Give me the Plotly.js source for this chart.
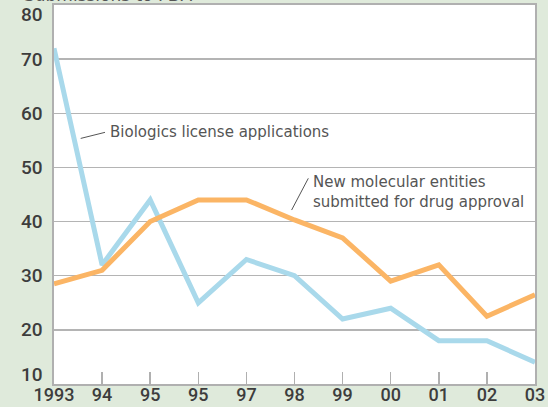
<!DOCTYPE html>
<html>
<head>
<meta charset="utf-8">
<script src="https://cdn.plot.ly/plotly-3.0.1.min.js"></script>
<style>html,body{margin:0;padding:0;background:#dfeadb;}#chart{width:548px;height:407px;}</style>
</head>
<body>
<div id="chart"></div>
<script>
const years = ["1993","94","95","95","97","98","99","00","01","02","03"];
const biologics = [72, 32, 44, 25, 33, 30, 22, 24, 18, 18, 14];
const newEntities = [28.5, 31, 40, 44, 44, 40.3, 37, 29, 32, 22.5, 26.5];
const yTicks = [10, 20, 30, 40, 50, 60, 70, 80];

const xIdx = years.map((_, i) => i);
const labelFont = {family: "Roboto, Liberation Sans, Arial, sans-serif", size: 19, color: "#3d3d3d", weight: 500};
const xLabelFont = {family: "Roboto, Liberation Sans, Arial, sans-serif", size: 18, color: "#3d3d3d", weight: 500};
const noteFont = {family: "DejaVu Sans, Open Sans, sans-serif", size: 15, color: "#555"};

const traces = [
  {x: xIdx, y: biologics, type: "scatter", mode: "lines", name: "Biologics license applications",
   line: {color: "#a9d9eb", width: 5}},
  {x: xIdx, y: newEntities, type: "scatter", mode: "lines", name: "New molecular entities submitted for drug approval",
   line: {color: "#fbb565", width: 5}}
];

const yLabelAnnotations = yTicks.map(v => ({
  text: String(v), xref: "paper", yref: "y", x: 0, y: v,
  xanchor: "right", yanchor: "middle", xshift: -9,
  yshift: v === 80 ? -9 : (v === 10 ? 10 : 0),
  showarrow: false, font: labelFont
}));

const layout = {
  width: 548, height: 407,
  margin: {l: 54, r: 13, t: 5, b: 23, pad: 0},
  paper_bgcolor: "#dfeadb",
  plot_bgcolor: "#ffffff",
  showlegend: false,
  xaxis: {
    range: [0, 10], tickvals: xIdx, ticktext: years, tickmode: "array",
    ticks: "inside", ticklen: 12, tickwidth: 1.5, tickcolor: "#b0b0b0",
    showgrid: false, zeroline: false,
    showline: true, mirror: true, linecolor: "#b0b0b0", linewidth: 2,
    tickfont: xLabelFont, ticklabelstandoff: -7
  },
  yaxis: {
    range: [10, 80], tickvals: yTicks, tickmode: "array", showticklabels: false,
    ticks: "", showgrid: true, gridcolor: "#b4b4b4", gridwidth: 1.5,
    zeroline: false, showline: true, mirror: true, linecolor: "#b0b0b0", linewidth: 2
  },
  annotations: yLabelAnnotations.concat([
    {text: "Biologics license applications", xref: "paper", yref: "paper",
     x: 0.1123, y: 0.6657, xanchor: "left", yanchor: "middle", showarrow: false, font: noteFont},
    {text: "New molecular entities<br>submitted for drug approval", xref: "paper", yref: "paper",
     x: 0.5337, y: 0.5053, xanchor: "left", yanchor: "middle", align: "left", showarrow: false, font: noteFont},
    {text: "Submissions to FDA", xref: "paper", yref: "paper",
     x: -0.066, y: 0.9935, xanchor: "left", yanchor: "bottom", showarrow: false,
     font: {family: "DejaVu Sans, sans-serif", size: 17, color: "#555"}}
  ]),
  shapes: [
    {type: "line", xref: "paper", yref: "paper", x0: 0.0555, y0: 0.648, x1: 0.106, y1: 0.664,
     line: {color: "#555", width: 1}},
    {type: "line", xref: "paper", yref: "paper", x0: 0.494, y0: 0.459, x1: 0.5287, y1: 0.5427,
     line: {color: "#555", width: 1}}
  ]
};

Plotly.newPlot("chart", traces, layout, {displayModeBar: false, staticPlot: true});
</script>
</body>
</html>
